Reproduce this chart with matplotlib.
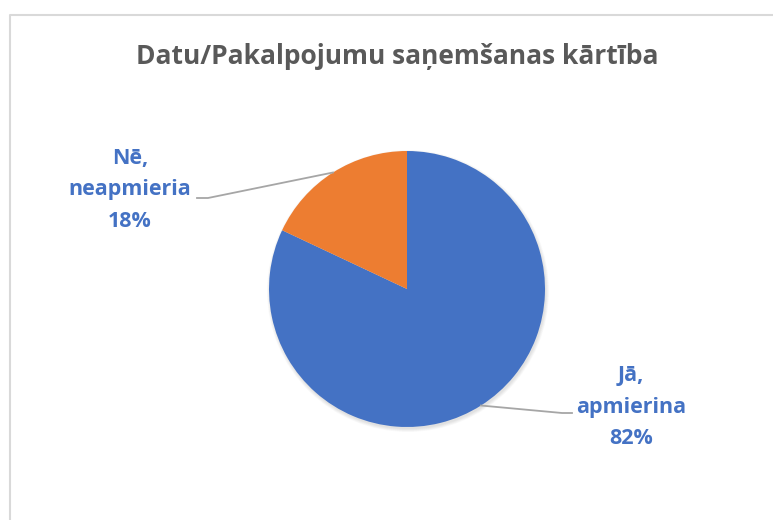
import numpy as np
import matplotlib.pyplot as plt

# data
labels = ["Jā,\napmierina", "Nē,\nneapmieria"]
shares = [82, 18]
colors = ["#4472C4", "#ED7D31"]
title = "Datu/Pakalpojumu saņemšanas kārtība"

W, H = 773, 520
fig = plt.figure(figsize=(W / 100, H / 100), dpi=100)
ax = fig.add_axes([0, 0, 1, 1])

# chart frame (only left and top edges visible in crop)
ax.plot([9.5, 9.5, W + 5], [-5, H - 14.5, H - 14.5], color="#D9D9D9", lw=1.5)

cx, cy, r = 407, H - 289, 138

# soft shadow
for k in range(6):
    ax.add_patch(plt.Circle((cx + 1, cy - 2), r + 0.6 * k, color="#000000",
                            alpha=0.018, lw=0, zorder=1))

wedges, _ = ax.pie(shares, colors=colors, startangle=90, counterclock=False,
                   center=(cx, cy), radius=r, frame=True,
                   wedgeprops=dict(linewidth=0, zorder=2))
ax.set_xlim(0, W)
ax.set_ylim(0, H)
ax.set_aspect("equal")
ax.axis("off")

fam = ["Open Sans", "DejaVu Sans"]
ax.text(397, H - 56, title, ha="center", va="center", fontsize=19,
        fontweight="bold", color="#595959", family=fam)

# label positions (text centre) and leader elbow points
label_xy = [(631, H - 407), (130, H - 190)]
elbow = [(562, H - 413), (208, H - 198)]
elbow_end = [(572, H - 413), (197, H - 198)]

for w, lab, pct, (tx, ty), (ex, ey), (fx, fy) in zip(
        wedges, labels, shares, label_xy, elbow, elbow_end):
    mid = np.deg2rad((w.theta1 + w.theta2) / 2)
    px, py = cx + r * np.cos(mid), cy + r * np.sin(mid)
    ax.plot([px, ex, fx], [py, ey, fy], color="#A6A6A6", lw=1.3, zorder=3)
    ax.text(tx, ty, f"{lab}\n{pct}%", ha="center", va="center",
            fontsize=15.5, fontweight="bold", color="#4472C4", family=fam,
            linespacing=1.65)

fig.savefig("out.png", dpi=100)
